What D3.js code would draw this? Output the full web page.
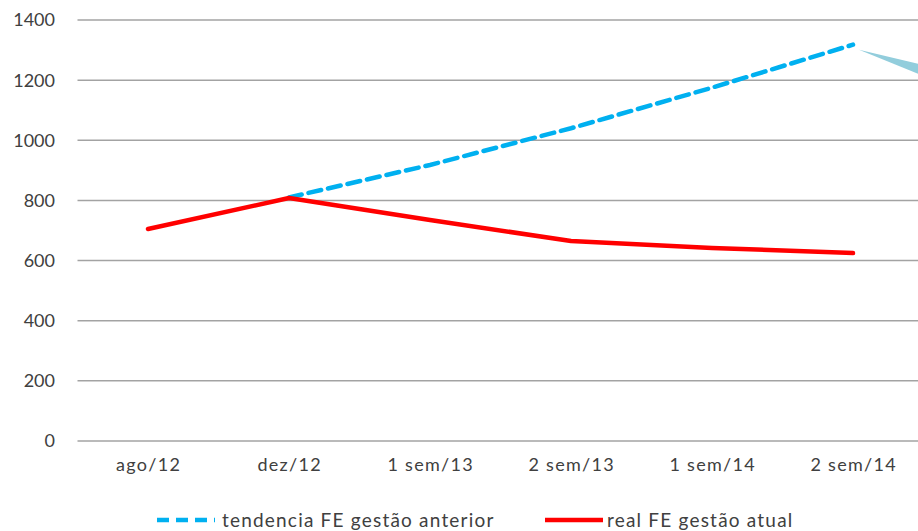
<!DOCTYPE html>
<html><head><meta charset="utf-8">
<script src="https://cdn.jsdelivr.net/npm/d3@7"></script>
<style>body{margin:0;background:#fff;}svg{display:block;font-family:Lato,"Open Sans",sans-serif;}</style>
</head><body><svg id="c" width="918" height="531"></svg>
<script>
const categories = ["ago/12","dez/12","1 sem/13","2 sem/13","1 sem/14","2 sem/14"];
const trendValues = [null, 810, 918, 1040, 1175, 1318];
const realValues = [705, 808, 735, 665, 642, 625];
const yTicks = [0,200,400,600,800,1000,1200,1400];
const seriesNames = ["tendencia FE gestão anterior","real FE gestão atual"];

(function(){
const svg = d3.select("#c");
const left = 77.5, step = 141, plotTop = 20, plotBottom = 441;
const x = d3.scaleBand().domain(categories).range([left, left + step*categories.length]);
const y = d3.scaleLinear().domain([0,1400]).range([plotBottom, plotTop]);
const cx = d => x(d) + x.bandwidth()/2;

svg.append("g").selectAll("line").data(yTicks).join("line")
  .attr("x1", left).attr("x2", 918)
  .attr("y1", d=>y(d)).attr("y2", d=>y(d))
  .attr("stroke","#a3a3a3").attr("stroke-width",1.5);

svg.append("g").selectAll("text").data(yTicks).join("text")
  .attr("x", 55).attr("y", d=>y(d)).attr("dy","0.36em")
  .attr("text-anchor","end").attr("font-size",18).attr("fill","#404040")
  .text(d=>d);

svg.append("g").selectAll("text").data(categories).join("text")
  .attr("x", d=>cx(d)+0.7).attr("y", 471)
  .attr("text-anchor","middle").attr("font-size",18).attr("letter-spacing",1.3).attr("fill","#404040")
  .text(d=>d);

const line = d3.line().defined(d=>d.v!==null).x(d=>cx(d.c)).y(d=>y(d.v));
const trend = categories.map((c,i)=>({c, v: trendValues[i]}));
const real = categories.map((c,i)=>({c, v: realValues[i]}));

const lx = cx(categories[5]), ly = y(trendValues[5]);
svg.append("path")
  .attr("d", `M${lx+6},${ly+5} L918,${ly+19} L918,${ly+29} Z`)
  .attr("fill","#92cddc");

svg.append("path").datum(trend).attr("d", line)
  .attr("fill","none").attr("stroke","#00b0f0").attr("stroke-width",4.5)
  .attr("stroke-dasharray","13,7").attr("stroke-linecap","round");
svg.append("path").datum(real).attr("d", line)
  .attr("fill","none").attr("stroke","#ff0000").attr("stroke-width",4.5)
  .attr("stroke-linecap","round").attr("stroke-linejoin","round");

const lg = svg.append("g");
lg.append("line").attr("x1",157).attr("x2",215).attr("y1",520).attr("y2",520)
  .attr("stroke","#00b0f0").attr("stroke-width",4.5).attr("stroke-dasharray","12,7");
lg.append("text").attr("x",222).attr("y",520).attr("dy","0.35em").attr("font-size",19).attr("letter-spacing",1.2).attr("fill","#404040").text(seriesNames[0]);
lg.append("line").attr("x1",545).attr("x2",603).attr("y1",520).attr("y2",520)
  .attr("stroke","#ff0000").attr("stroke-width",4.5);
lg.append("text").attr("x",607).attr("y",520).attr("dy","0.35em").attr("font-size",19).attr("letter-spacing",1.2).attr("fill","#404040").text(seriesNames[1]);
})();
</script></body></html>
